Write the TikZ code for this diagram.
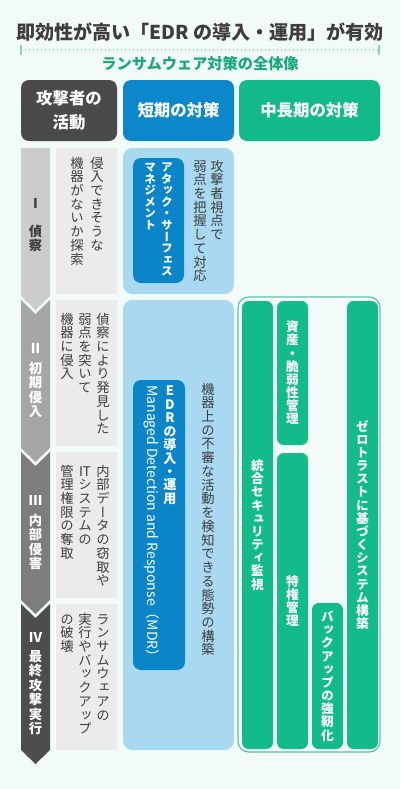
\documentclass[tikz,border=0pt]{standalone}
\usepackage{fontspec}
\setmainfont{Noto Sans CJK JP}
\newfontfamily\tatefont[RawFeature=+vert]{Noto Sans CJK JP}

\definecolor{bgmint}{HTML}{F3FBF8}
\definecolor{ink}{HTML}{3D3D3D}
\definecolor{dotline}{HTML}{8FD3C0}
\definecolor{subgreen}{HTML}{1AA77A}
\definecolor{hdrdark}{HTML}{4A4A4A}
\definecolor{hdrblue}{HTML}{0A88CB}
\definecolor{hdrgreen}{HTML}{12BA8A}
\definecolor{stageA}{HTML}{CCCCCC}
\definecolor{stageB}{HTML}{A6A6A6}
\definecolor{stageC}{HTML}{7D7D7D}
\definecolor{stageD}{HTML}{4D4D4D}
\definecolor{descgray}{HTML}{EBEBEB}
\definecolor{lightblue}{HTML}{A9D9F1}
\definecolor{deepblue}{HTML}{0A86C8}
\definecolor{bargreen}{HTML}{13BB8B}
\definecolor{framegreen}{HTML}{57C3A4}

% vertical (tategaki) columns: \tate[gap][pitch]{right column|next column|...}
\ExplSyntaxOn
\dim_new:N \l__tt_pitch_dim
\cs_new_protected:Npn \__tt_col:n #1
  {
    \vtop
      {
        \baselineskip=\l__tt_pitch_dim
        \lineskip=0pt
        \lineskiplimit=-\maxdimen
        \tl_map_inline:nn {#1}
          { \hbox_to_wd:nn {1em} { \hss \rule[-0.12em]{0pt}{1em} ##1 \hss } }
      }
  }
\NewDocumentCommand \tate { O{0.35em} O{1.03em} m }
  {
    \group_begin:
    \dim_set:Nn \l__tt_pitch_dim {#2}
    \seq_set_split:Nnn \l_tmpa_seq { | } {#3}
    \seq_reverse:N \l_tmpa_seq
    \hbox:n
      {
        \seq_map_indexed_inline:Nn \l_tmpa_seq
          {
            \int_compare:nNnF {##1} = {1} { \hspace{#1} }
            \__tt_col:n {##2}
          }
      }
    \group_end:
  }
\ExplSyntaxOff

\begin{document}
\begin{tikzpicture}[x=0.75pt,y=0.75pt,yscale=-1,xscale=1,
  hdr/.style={rounded corners=6pt},
  hdrtext/.style={text=white, font=\bfseries\fontsize{12.3pt}{18pt}\selectfont, align=center, inner sep=0pt},
  vtext/.style={inner sep=0pt, anchor=north, text=ink, font=\tatefont\fontsize{10pt}{12pt}\selectfont},
  vwhite/.style={vtext, text=white, font=\tatefont\bfseries\fontsize{9.5pt}{12pt}\selectfont},
  vstage/.style={vtext, font=\tatefont\bfseries\fontsize{10pt}{12pt}\selectfont},
  numeral/.style={inner sep=0pt, text=white, font=\bfseries\fontsize{10pt}{12pt}\selectfont},
  bar/.style={fill=bargreen, rounded corners=5pt}]

% background
\fill[bgmint] (0,0) rectangle (400,789);

% Title
\node[text=ink, font=\bfseries\fontsize{14.3pt}{16pt}\selectfont, inner sep=0pt] (title) at (200,32) {即効性が高い「EDR の導入・運用」が有効};
%Dotted line under title
\coordinate (dotL) at (21,50);
\coordinate (dotR) at (379,50);
\draw[dotline, line width=1pt, dotted] (dotL) -- (dotR);
\draw[dotline, line width=1pt] ([yshift=-4]dotL) -- ([yshift=4]dotL);
\draw[dotline, line width=1pt] ([yshift=-4]dotR) -- ([yshift=4]dotR);
% Subtitle
\node[text=subgreen, font=\bfseries\fontsize{11.4pt}{14pt}\selectfont, inner sep=0pt] (subtitle) at (200,64) {ランサムウェア対策の全体像};

% Header boxes
\fill[hdrdark, hdr] (21,80) rectangle (117,141);
\fill[hdrblue, hdr] (123,80) rectangle (234,141);
\fill[hdrgreen, hdr] (239,80) rectangle (380,141);
\node[hdrtext] (hdrA) at (69,110.5) {攻撃者の\\活動};
\node[hdrtext] (hdrB) at (178.5,110.5) {短期の対策};
\node[hdrtext] (hdrC) at (309.5,110.5) {中長期の対策};

%Stage chevrons
\fill[stageA] (21,148) -- (50,148) -- (50,296) -- (35.5,310) -- (21,296) -- cycle;
\fill[stageB] (21,300) -- (35.5,314) -- (50,300) -- (50,448) -- (35.5,462) -- (21,448) -- cycle;
\fill[stageC] (21,452) -- (35.5,466) -- (50,452) -- (50,600) -- (35.5,614) -- (21,600) -- cycle;
\fill[stageD] (21,604) -- (35.5,618) -- (50,604) -- (50,750) -- (35.5,764) -- (21,750) -- cycle;
\node[numeral, text=ink] (numI) at (35.5,204) {Ⅰ};
\node[numeral] (numII) at (35.5,349) {Ⅱ};
\node[numeral] (numIII) at (35.5,500) {Ⅲ};
\node[numeral] (numIV) at (35.5,637) {Ⅳ};
\node[vstage] (stageI) at (35.5,224) {\tate[0pt][1.09em]{偵察}};
\node[vstage, text=white] (stageII) at (35.5,361) {\tate[0pt][1.09em]{初期侵入}};
\node[vstage, text=white] (stageIII) at (35.5,513) {\tate[0pt][1.09em]{内部侵害}};
\node[vstage, text=white] (stageIV) at (35.5,649) {\tate[0pt][1.09em]{最終攻撃実行}};

%Attacker activity boxes
\fill[descgray] (56,148) rectangle (117,294);
\fill[descgray] (56,300) rectangle (117,446);
\fill[descgray] (56,452) rectangle (117,598);
\fill[descgray] (56,604) rectangle (117,750);
\node[vtext] (descI) at (87,156) {\tate[0.5em]{侵入できそうな|機器がないか探索}};
\node[vtext] (descII) at (85,312) {\tate{偵察により発見した|弱点を突いて|機器に侵入}};
\node[vtext] (descIII) at (85,464) {\tate{内部データの窃取や|{IT}システムの|管理権限の奪取}};
\node[vtext] (descIV) at (85,612) {\tate{ランサムウェアの|実行やバックアップ|の破壊}};

%Short-term measures
\fill[lightblue, rounded corners=7pt] (123,148) rectangle (234,294);
\fill[deepblue, rounded corners=6pt] (133,158) rectangle (184,283);
\node[vwhite, font=\tatefont\bfseries\fontsize{8.7pt}{12pt}\selectfont] (asm) at (158.5,161) {\tate[0.45em][1.0em]{アタック・サーフェス|マネジメント}};
\node[vtext] (asmNote) at (208.5,159) {\tate[0.28em]{攻撃者視点で|弱点を把握して対応}};

\fill[lightblue, rounded corners=7pt] (123,300) rectangle (234,750);
\fill[deepblue, rounded corners=6pt] (133,380) rectangle (185,670);
\node[vwhite, font=\tatefont\bfseries\fontsize{9.8pt}{12pt}\selectfont] (edr) at (170,384) {\tate{EDRの導入・運用}};
\node[rotate=-90, anchor=west, inner sep=0pt, text=white, font=\fontsize{10.5pt}{12pt}\selectfont] (mdr) at (152,385) {Managed Detection and Response（MDR）};
\node[vtext] (edrNote) at (208,382) {\tate{機器上の不審な活動を検知できる態勢の構築}};

%Mid- and long-term measures
\draw[framegreen, line width=0.9pt, fill=bgmint, rounded corners=8pt] (238,297) rectangle (380,752);
\draw[white, line width=0.8pt, rounded corners=7pt] (239.6,298.6) rectangle (378.4,750.4);
\fill[bar] (242,301) rectangle (273,749);
\fill[bar] (277,301) rectangle (308,445);
\fill[bar] (277,453) rectangle (308,749);
\fill[bar] (312,603) rectangle (343,749);
\fill[bar] (347,301) rectangle (378,749);
\node[vwhite, anchor=center] (siem) at (257.5,525) {\tate[0pt][1.04em]{統合セキュリティ監視}};
\node[vwhite, anchor=center] (asset) at (292.5,373) {\tate[0pt][1.04em]{資産・脆弱性管理}};
\node[vwhite, anchor=center] (priv) at (292.5,601) {\tate[0pt][1.04em]{特権管理}};
\node[vwhite, anchor=center] (backup) at (327.5,676) {\tate[0pt][1.04em]{バックアップの強靭化}};
\node[vwhite, anchor=center] (zerotrust) at (362.5,525) {\tate[0pt][1.04em]{ゼロトラストに基づくシステム構築}};

\end{tikzpicture}
\end{document}
